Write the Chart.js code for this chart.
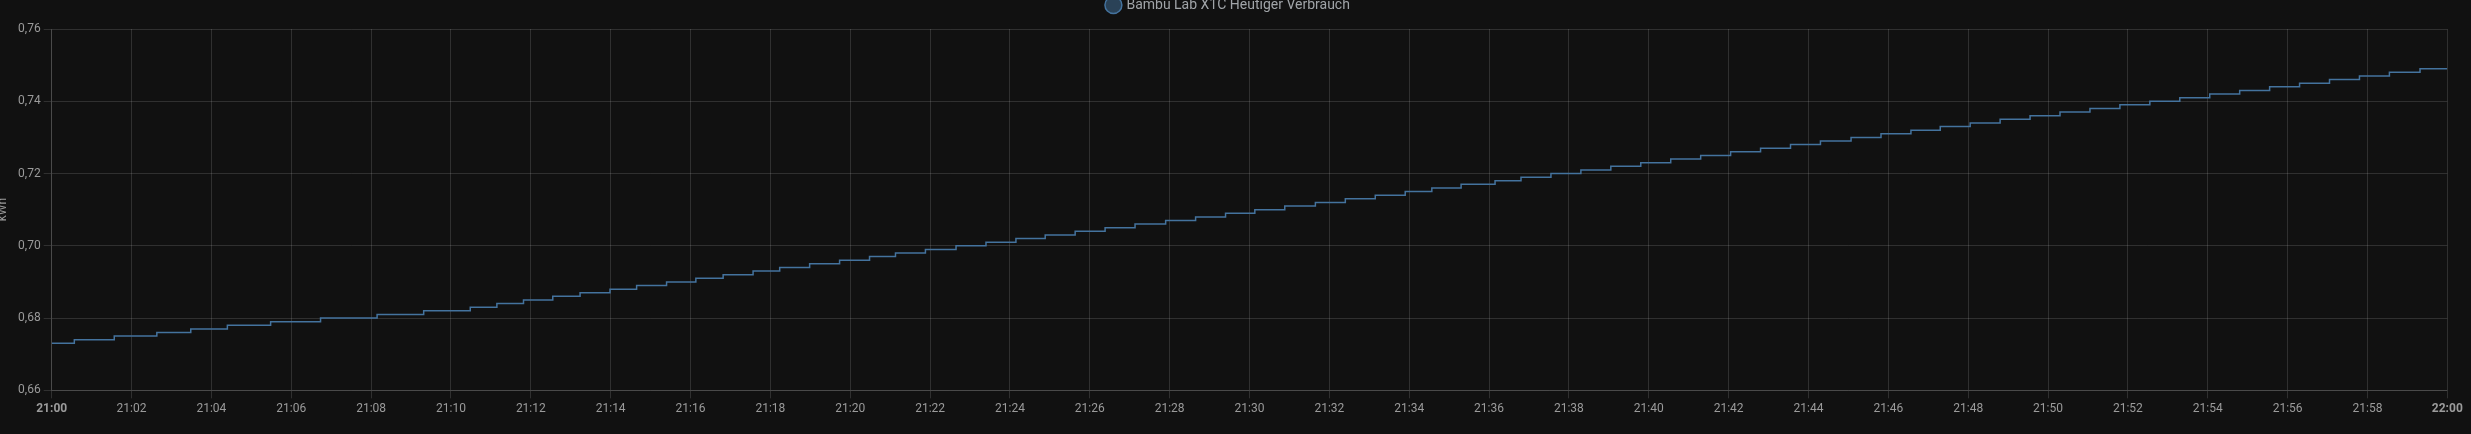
<!DOCTYPE html>
<html>
<head>
<meta charset="utf-8">
<script src="https://cdn.jsdelivr.net/npm/chart.js@4.4.1/dist/chart.umd.min.js"></script>
<style>
  html, body { margin: 0; padding: 0; background: #111111; overflow: hidden; width: 2471px; height: 434px; }
  #wrap { position: relative; width: 2471px; height: 434px; overflow: hidden; }
  #c { position: absolute; left: -8px; top: -11px; }
</style>
</head>
<body>
<div id="wrap"><canvas id="c" width="2479" height="445"></canvas></div>
<script>
const seriesLabel = "Bambu Lab X1C Heutiger Verbrauch";
const unitLabel = "kWh";
const times = [
  "21:00:00","21:00:34","21:01:34","21:02:38","21:03:29","21:04:24","21:05:29","21:06:44","21:08:09","21:09:19",
  "21:10:29","21:11:09","21:11:49","21:12:33","21:13:14","21:13:59","21:14:39","21:15:24","21:16:08","21:16:49",
  "21:17:34","21:18:14","21:18:59","21:19:44","21:20:29","21:21:08","21:21:53","21:22:39","21:23:24","21:24:09",
  "21:24:53","21:25:38","21:26:23","21:27:08","21:27:54","21:28:39","21:29:24","21:30:08","21:30:53","21:31:39",
  "21:32:24","21:33:09","21:33:54","21:34:34","21:35:18","21:36:09","21:36:48","21:37:33","21:38:18","21:39:03",
  "21:39:48","21:40:33","21:41:18","21:42:03","21:42:48","21:43:33","21:44:18","21:45:04","21:45:49","21:46:34",
  "21:47:18","21:48:03","21:48:48","21:49:33","21:50:18","21:51:03","21:51:48","21:52:33","21:53:18","21:54:03",
  "21:54:48","21:55:33","21:56:18","21:57:03","21:57:48","21:58:33","21:59:19","22:00:00"
];
const energy = [
  0.673,0.674,0.675,0.676,0.677,0.678,0.679,0.680,0.681,0.682,
  0.683,0.684,0.685,0.686,0.687,0.688,0.689,0.690,0.691,0.692,
  0.693,0.694,0.695,0.696,0.697,0.698,0.699,0.700,0.701,0.702,
  0.703,0.704,0.705,0.706,0.707,0.708,0.709,0.710,0.711,0.712,
  0.713,0.714,0.715,0.716,0.717,0.718,0.719,0.720,0.721,0.722,
  0.723,0.724,0.725,0.726,0.727,0.728,0.729,0.730,0.731,0.732,
  0.733,0.734,0.735,0.736,0.737,0.738,0.739,0.740,0.741,0.742,
  0.743,0.744,0.745,0.746,0.747,0.748,0.749,0.749
];
const xStart = "21:00:00";
const xEnd = "22:00:00";
const xTickStepMinutes = 2;
const yMin = 0.66, yMax = 0.76, yStep = 0.02;

function toSec(t) {
  const [h, m, s] = t.split(":").map(Number);
  return h * 3600 + m * 60 + s;
}
const base = toSec(xStart);
const points = times.map((t, i) => ({ x: toSec(t) - base, y: energy[i] }));
function fmtTime(sec) {
  const tot = base + sec;
  const h = Math.floor(tot / 3600), m = Math.floor((tot % 3600) / 60);
  return String(h).padStart(2, "0") + ":" + String(m).padStart(2, "0");
}

const lineColor = "#44739e";
const gridColor = "rgba(225,225,225,0.15)";
const tickColor = "#9b9b9b";
const FONT = "Roboto";

const legendFix = {
  id: "legendFix",
  beforeInit(chart) {
    const orig = chart.legend.fit;
    chart.legend.fit = function () { orig.call(this); this.height = 40; };
  },
  afterLayout(chart) {
    chart.legend.left += 9;
    chart.legend.right += 9;
  }
};

new Chart(document.getElementById("c"), {
  type: "line",
  data: {
    datasets: [{
      label: seriesLabel,
      data: points,
      borderColor: lineColor,
      backgroundColor: "rgba(68,115,158,0.5)",
      borderWidth: 1.5,
      pointRadius: 0,
      pointHoverRadius: 0,
      stepped: true,
      fill: false,
      tension: 0
    }]
  },
  options: {
    responsive: false,
    animation: false,
    devicePixelRatio: 1,
    layout: { padding: { left: 0, right: 23.7, top: 0, bottom: 0 } },
    plugins: {
      legend: {
        display: true,
        position: "top",
        align: "center",
        labels: {
          usePointStyle: true,
          pointStyle: "circle",
          boxWidth: 12,
          boxHeight: 12,
          padding: 9,
          color: "#a0a4a8",
          font: { family: FONT, size: 14 }
        }
      },
      tooltip: { enabled: false }
    },
    scales: {
      x: {
        type: "linear",
        min: 0,
        max: toSec(xEnd) - base,
        afterFit(scale) { scale.height = 43.7; },
        afterBuildTicks(scale) {
          const t = [];
          for (let v = 0; v <= toSec(xEnd) - base; v += xTickStepMinutes * 60) t.push({ value: v });
          scale.ticks = t;
        },
        ticks: {
          autoSkip: false,
          maxRotation: 0,
          color: tickColor,
          padding: 3,
          font: (ctx) => ({ family: FONT, size: 12, weight: (ctx.tick && ctx.tick.value % 3600 === 0) ? "bold" : "normal" }),
          callback: (v) => fmtTime(v)
        },
        grid: { color: gridColor, tickLength: 8, drawTicks: true },
        border: { color: gridColor }
      },
      y: {
        min: yMin,
        max: yMax,
        afterFit(scale) { scale.width = 59.7; },
        ticks: {
          stepSize: yStep,
          color: tickColor,
          padding: 3,
          font: { family: FONT, size: 12 },
          callback: (v) => v.toFixed(2).replace(".", ",")
        },
        title: {
          display: true,
          text: unitLabel,
          color: tickColor,
          font: { family: FONT, size: 12 }
        },
        grid: { color: gridColor, tickLength: 8 },
        border: { color: gridColor }
      }
    }
  },
  plugins: [legendFix]
});
</script>
</body>
</html>
